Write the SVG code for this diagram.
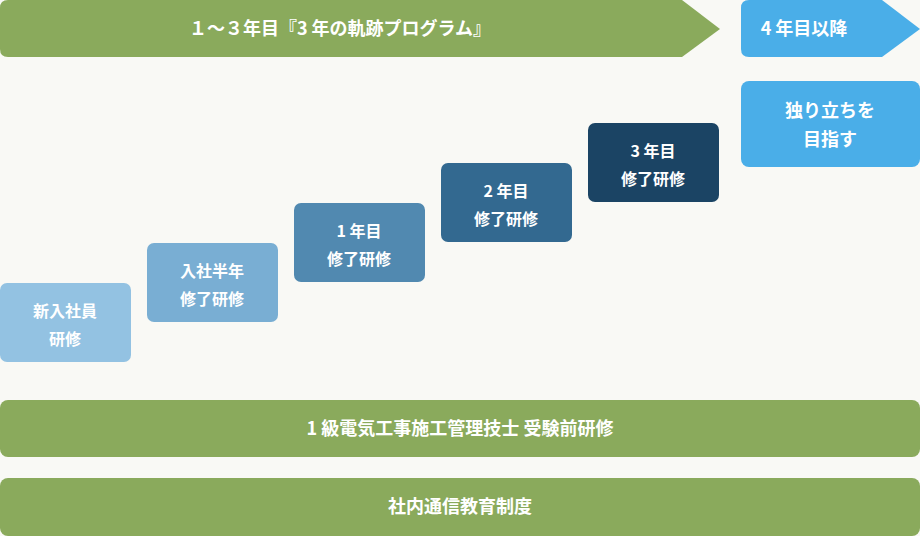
<svg xmlns="http://www.w3.org/2000/svg" width="920" height="536" viewBox="0 0 920 536">
<style>
text{font-family:"Noto Sans CJK JP","Noto Sans",sans-serif;font-weight:bold;fill:#fff;text-anchor:middle}
.s{font-size:16px}.m{font-size:18px}.l{font-size:19px}
.g{fill:#8aaa5c}
</style>
<rect width="920" height="536" fill="#f9f9f5"/>
<g id="head1"><path class="g" d="M8 0H682L720 29L682 57H8Q0 57 0 49V8Q0 0 8 0Z"/><text class="m" x="340" y="35">１～３年目『3 年の軌跡プログラム』</text></g>
<g id="head2"><path fill="#4aaee8" d="M749 0H882L920 29L882 57H749Q741 57 741 49V8Q741 0 749 0Z"/><text class="m" x="804" y="35">4 年目以降</text></g>
<g id="goal"><rect x="741" y="81" width="179" height="86" rx="8" fill="#4aaee8"/><text class="m" x="830" y="117">独り立ちを</text><text class="m" x="830" y="146">目指す</text></g>
<g id="b1"><rect x="0" y="283" width="131" height="79" rx="7" fill="#93c2e2"/><text class="s" x="65" y="317">新入社員</text><text class="s" x="65" y="345">研修</text></g>
<g id="b2"><rect x="147" y="243" width="131" height="79" rx="7" fill="#79aed3"/><text class="s" x="212" y="277">入社半年</text><text class="s" x="212" y="305">修了研修</text></g>
<g id="b3"><rect x="294" y="203" width="131" height="79" rx="7" fill="#5189b0"/><text class="s" x="359" y="237">1 年目</text><text class="s" x="359" y="265">修了研修</text></g>
<g id="b4"><rect x="441" y="163" width="131" height="79" rx="7" fill="#336990"/><text class="s" x="506" y="197">2 年目</text><text class="s" x="506" y="225">修了研修</text></g>
<g id="b5"><rect x="588" y="123" width="131" height="79" rx="7" fill="#1b4464"/><text class="s" x="653" y="157">3 年目</text><text class="s" x="653" y="185">修了研修</text></g>
<g id="bar1"><rect class="g" x="0" y="400" width="920" height="57" rx="8"/><text class="m" x="460" y="435">1 級電気工事施工管理技士 受験前研修</text></g>
<g id="bar2"><rect class="g" x="0" y="478" width="920" height="58" rx="8"/><text class="m" x="460" y="513">社内通信教育制度</text></g>
<g id="connectors"/>
</svg>
